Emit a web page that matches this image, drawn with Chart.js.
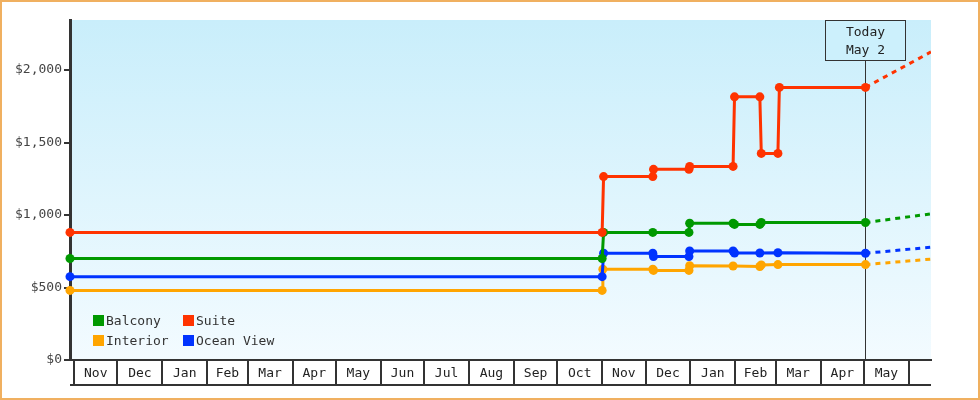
<!DOCTYPE html>
<html>
<head>
<meta charset="utf-8">
<script src="https://cdn.jsdelivr.net/npm/chart.js@4.4.1/dist/chart.umd.min.js"></script>
<style>
  body { margin: 0; background: #fff; }
  #wrap { position: relative; width: 980px; height: 400px; }
  #frame { position: absolute; inset: 0; border: 2px solid #f0b060; box-sizing: border-box; pointer-events: none; }
  #legend { position: absolute; left: 93px; top: 313px; display: grid; grid-template-columns: 90px 110px; row-gap: 6px;
            font: 13px "DejaVu Sans Mono", monospace; color: #333; }
  .item { display: flex; align-items: center; height: 14px; white-space: nowrap; }
  .sw { width: 11px; height: 11px; margin-right: 2px; }
</style>
</head>
<body>
<div id="wrap">
  <canvas id="myChart"></canvas>
  <div id="legend"></div>
  <div id="frame"></div>
</div>
<script>
// days counted from Nov 1 of the first year
const monthStarts = [0, 30, 61, 92, 120, 151, 181, 212, 242, 273, 304, 334, 365, 395, 426, 457, 485, 516, 546, 577]
const monthNames = ['Nov', 'Dec', 'Jan', 'Feb', 'Mar', 'Apr', 'May', 'Jun', 'Jul', 'Aug', 'Sep', 'Oct',
                    'Nov', 'Dec', 'Jan', 'Feb', 'Mar', 'Apr', 'May']
const yTicks = [0, 500, 1000, 1500, 2000]
const xMin = -2.8
const xMax = 592.3
const yMax = 2345
const todayDay = 547
const todayText = ['Today', 'May 2']

const suiteDays = [-2.8, 365, 366, 400, 400.5, 425, 425.5, 455.5, 456.5, 474, 475, 486.5, 487.5, 547]
const suitePrices = [880, 880, 1265, 1265, 1315, 1315, 1335, 1335, 1815, 1815, 1425, 1425, 1880, 1880]

const balconyDays = [-2.8, 365, 366, 400, 425, 425.5, 455.5, 456.5, 474, 475, 547]
const balconyPrices = [700, 700, 880, 880, 880, 943, 943, 935, 935, 948, 948]

const oceanDays = [-2.8, 365, 366, 400, 400.5, 425, 425.5, 455.5, 456.5, 474, 486.5, 547]
const oceanPrices = [575, 575, 736, 736, 713, 713, 752, 752, 738, 738, 740, 736]

const interiorDays = [-2.8, 365, 365.5, 400, 400.5, 425, 425.5, 455.5, 474, 475, 486.5, 547]
const interiorPrices = [480, 480, 626, 626, 618, 618, 650, 648, 645, 656, 658, 658]

// projection after today
const forecastDays = [547, 592.3]
const suiteForecast = [1880, 2125]
const balconyForecast = [948, 1008]
const oceanForecast = [736, 778]
const interiorForecast = [658, 696]

const series = [
    { label: 'Suite', color: '#ff3300', days: suiteDays, prices: suitePrices, forecast: suiteForecast },
    { label: 'Balcony', color: '#009900', days: balconyDays, prices: balconyPrices, forecast: balconyForecast },
    { label: 'Ocean View', color: '#0033ff', days: oceanDays, prices: oceanPrices, forecast: oceanForecast },
    { label: 'Interior', color: '#ffa500', days: interiorDays, prices: interiorPrices, forecast: interiorForecast },
]
const legendOrder = ['Balcony', 'Suite', 'Interior', 'Ocean View']

const font = { family: '"DejaVu Sans Mono", monospace', size: 13 }

// ticks at month starts (cell borders) and month middles (labels)
const tickDays = []
const tickLabels = []
monthStarts.forEach((d, i) => {
    tickDays.push(d); tickLabels.push('')
    if (i < monthNames.length) {
        tickDays.push((d + monthStarts[i + 1]) / 2); tickLabels.push(monthNames[i])
    }
})

const bgPlugin = {
    id: 'bg',
    beforeDraw(chart) {
        const { ctx, chartArea: a } = chart
        const g = ctx.createLinearGradient(0, a.top, 0, a.bottom)
        g.addColorStop(0, '#c9eefb')
        g.addColorStop(1, '#f3fbff')
        ctx.save()
        ctx.fillStyle = g
        ctx.fillRect(a.left, a.top, a.right - a.left, a.bottom - a.top)
        ctx.restore()
    }
}

const todayPlugin = {
    id: 'today',
    beforeDatasetsDraw(chart) {
        const { ctx, chartArea: a } = chart
        const x = Math.round(chart.scales.x.getPixelForValue(todayDay)) + 0.5
        const w = 80, h = 40
        ctx.save()
        ctx.strokeStyle = '#333'
        ctx.lineWidth = 1
        ctx.beginPath()
        ctx.moveTo(x, a.top + h)
        ctx.lineTo(x, a.bottom)
        ctx.stroke()
        ctx.fillStyle = '#ccf0fc'
        ctx.fillRect(x - w / 2, a.top, w, h)
        ctx.strokeRect(x - w / 2, a.top + 0.5, w, h)
        ctx.fillStyle = '#222'
        ctx.font = '13px "DejaVu Sans Mono", monospace'
        ctx.textAlign = 'center'
        ctx.textBaseline = 'middle'
        ctx.fillText(todayText[0], x, a.top + 13)
        ctx.fillText(todayText[1], x, a.top + 31)
        ctx.restore()
    }
}

const cellPlugin = {
    id: 'cells',
    afterDraw(chart) {
        const s = chart.scales.x
        const y = s.top + 25
        const { ctx } = chart
        ctx.save()
        ctx.strokeStyle = '#333'
        ctx.lineWidth = 2
        ctx.beginPath()
        ctx.moveTo(s.left, y)
        ctx.lineTo(s.right, y)
        ctx.stroke()
        ctx.restore()
    }
}

const datasets = []
series.forEach(s => {
    datasets.push({
        label: s.label,
        data: s.days.map((d, i) => ({ x: d, y: s.prices[i] })),
        borderColor: s.color,
        backgroundColor: s.color,
        borderWidth: 3,
        pointRadius: 4.5,
        pointBorderWidth: 0,
        tension: 0,
        clip: false
    })
})
series.forEach(s => {
    datasets.push({
        label: s.label + ' forecast',
        data: forecastDays.map((d, i) => ({ x: d, y: s.forecast[i] })),
        borderColor: s.color,
        borderWidth: 3,
        borderDash: [5, 5],
        pointRadius: 0,
        tension: 0
    })
})

document.getElementById('legend').innerHTML = legendOrder.map(name => {
    const s = series.find(item => item.label === name)
    return `<div class="item"><span class="sw" style="background:${s.color}"></span>${name}</div>`
}).join('')

new Chart(document.getElementById('myChart'), {
    type: 'line',
    data: { datasets: datasets },
    options: {
        responsive: true,
        maintainAspectRatio: false,
        animation: false,
        devicePixelRatio: 1,
        layout: { padding: { top: 20, right: 49, left: 0, bottom: 0 } },
        plugins: { legend: { display: false }, tooltip: { enabled: false } },
        scales: {
            x: {
                type: 'linear',
                min: xMin,
                max: xMax,
                afterBuildTicks: scale => { scale.ticks = tickDays.map(v => ({ value: v })) },
                afterFit: scale => { scale.height = 40 },
                border: { display: true, color: '#333', width: 2 },
                grid: {
                    drawOnChartArea: false,
                    tickLength: 25,
                    lineWidth: 2,
                    color: c => (c.tick && monthStarts.includes(c.tick.value)) ? '#333' : 'rgba(0,0,0,0)'
                },
                ticks: {
                    autoSkip: false,
                    maxRotation: 0,
                    padding: -19,
                    color: '#222',
                    font: font,
                    callback: (v, i) => tickLabels[i]
                }
            },
            y: {
                min: 0,
                max: yMax,
                afterBuildTicks: scale => { scale.ticks = yTicks.map(v => ({ value: v })) },
                afterFit: scale => { scale.width = 70 },
                border: { display: true, color: '#333', width: 3 },
                grid: { drawOnChartArea: false, tickLength: 6, lineWidth: 2, color: '#333' },
                ticks: {
                    padding: 2,
                    color: '#444',
                    font: font,
                    callback: v => '$' + v.toLocaleString('en-US')
                }
            }
        }
    },
    plugins: [bgPlugin, todayPlugin, cellPlugin]
})
</script>
</body>
</html>
